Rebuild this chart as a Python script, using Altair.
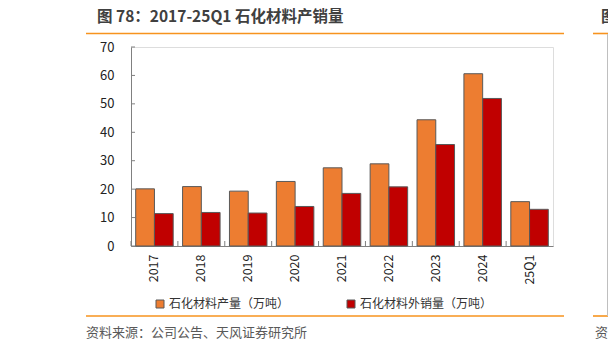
import altair as alt
import pandas as pd

categories = ["2017", "2018", "2019", "2020", "2021", "2022", "2023", "2024", "25Q1"]
production = [20.1, 20.9, 19.3, 22.7, 27.5, 28.9, 44.4, 60.6, 15.6]
sales = [11.4, 11.8, 11.6, 13.9, 18.5, 20.8, 35.7, 51.9, 12.9]
series_names = ["石化材料产量（万吨）", "石化材料外销量（万吨）"]
series_colors = ["#ED7D31", "#C00000"]
y_ticks = [0, 10, 20, 30, 40, 50, 60, 70]

title_text = "图 78：2017-25Q1 石化材料产销量"
source_text = "资料来源：公司公告、天风证券研究所"

FONT = "Noto Sans CJK SC"
W, H = 422, 199
PL, PT = 131, 47
STEP = W / 9.0

rows = []
for c, p, s in zip(categories, production, sales):
    rows.append({"cat": c, "series": series_names[0], "value": p})
    rows.append({"cat": c, "series": series_names[1], "value": s})
df = pd.DataFrame(rows)
cat_df = pd.DataFrame({"cat": categories})
tick_df = pd.DataFrame({"value": y_ticks})

xscale = alt.Scale(domain=categories, paddingInner=0.2, paddingOuter=0.1)
yscale = alt.Scale(domain=[0, 70], nice=False)

xaxis = alt.Axis(labelAngle=270, labelAlign="right", labelBaseline="middle",
                 labelPadding=8, ticks=False, domainColor="#808080",
                 labelFontSize=12.5, labelColor="#222222", labelFont=FONT)
yaxis = alt.Axis(values=y_ticks, grid=False, ticks=False, domainColor="#808080",
                 labelPadding=17, labelFontSize=13, labelColor="#222222",
                 labelFont=FONT, labelOverlap=False)

bars = alt.Chart(df).mark_bar(stroke="#595959", strokeWidth=1).encode(
    x=alt.X("cat:N", sort=categories, scale=xscale, title=None, axis=xaxis),
    xOffset=alt.XOffset("series:N", sort=series_names),
    y=alt.Y("value:Q", scale=yscale, title=None, axis=yaxis),
    color=alt.Color("series:N", sort=series_names,
                    scale=alt.Scale(domain=series_names, range=series_colors),
                    legend=alt.Legend(title=None, orient="none", legendX=23, legendY=251,
                                      direction="horizontal", symbolType="square",
                                      symbolSize=64, symbolStrokeColor="#595959",
                                      symbolStrokeWidth=1, labelFontSize=12,
                                      labelFont=FONT, labelColor="#333333",
                                      labelOffset=3, columnPadding=55)),
)

xticks = alt.Chart(cat_df).mark_rule(color="#808080", strokeWidth=1,
                                     xOffset=-0.1 * STEP).encode(
    x=alt.X("cat:N", sort=categories, scale=xscale, bandPosition=0, title=None,
            axis=xaxis),
    y=alt.value(H),
    y2=alt.value(H - 5),
)

yticks = alt.Chart(tick_df).mark_rule(color="#808080", strokeWidth=1).encode(
    y=alt.Y("value:Q", scale=yscale, title=None, axis=yaxis),
    x=alt.value(0),
    x2=alt.value(4),
)

one = alt.Data(values=[{"a": 1}])

def hline(x1, x2, y, color="#F7931E", w=1.6):
    return alt.Chart(one).mark_rule(color=color, strokeWidth=w).encode(
        x=alt.value(x1 - PL), x2=alt.value(x2 - PL), y=alt.value(y - PT))

def text(t, x, y, size, color, weight="normal"):
    return alt.Chart(one).mark_text(align="left", baseline="middle", fontSize=size,
                                    font=FONT, color=color, fontWeight=weight).encode(
        x=alt.value(x - PL), y=alt.value(y - PT), text=alt.value(t))

vline = alt.Chart(one).mark_rule(color="#BFBFBF", strokeWidth=1).encode(
    x=alt.value(607.5 - PL), y=alt.value(34 - PT), y2=alt.value(316 - PT))

decor = [
    hline(86, 564, 33.5),
    hline(593, 610, 33.5),
    hline(86, 564, 316),
    hline(593, 610, 316),
    vline,
    text(title_text, 97, 17, 15.5, "#404040", "bold"),
    text("图", 601, 17, 15.5, "#404040", "bold"),
    text(source_text, 86, 333, 13, "#595959"),
    text("资", 595, 333, 13, "#595959"),
]

chart = alt.layer(bars, xticks, yticks, *decor).properties(
    width=W, height=H,
    autosize=alt.AutoSizeParams(type="none"),
    padding={"left": PL, "top": PT, "right": 608 - PL - W, "bottom": 352 - PT - H},
).configure_view(stroke=None).configure(background="white")

chart.save("out.html", embed_options={"renderer": "svg", "actions": False})
